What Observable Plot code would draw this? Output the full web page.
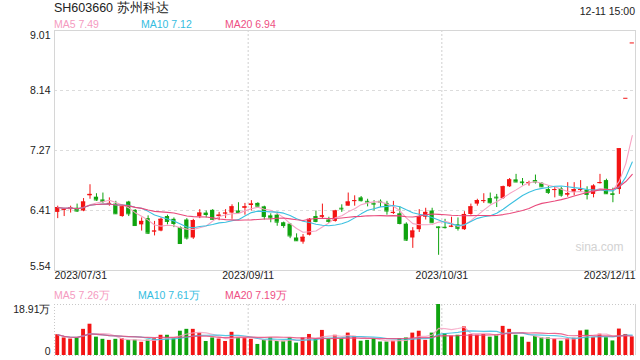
<!DOCTYPE html>
<html>
<head>
<meta charset="utf-8">
<script src="https://cdn.jsdelivr.net/npm/d3@7"></script>
<script src="https://cdn.jsdelivr.net/npm/@observablehq/plot@0.6"></script>
<style>
  html, body { margin: 0; padding: 0; background: #fff; }
  #wrap { position: relative; width: 640px; height: 360px; overflow: hidden; font-family: "Liberation Sans", Arial, sans-serif; color: #222; }
  #wrap svg { position: absolute; left: 0; }
  .lbl { position: absolute; white-space: nowrap; font-size: 10.5px; line-height: 12px; }
</style>
</head>
<body>
<div id="wrap"></div>
<script>
// ---------- data ----------
const stockTitle = "SH603660 苏州科达";
const timeStamp = "12-11 15:00";
const opens  = [6.38,6.41,6.42,6.44,6.40,6.62,6.60,6.56,6.50,6.50,6.32,6.53,6.41,6.20,6.29,6.10,6.11,6.32,6.28,6.16,
                6.27,6.01,6.32,6.37,6.41,6.32,6.36,6.37,6.40,6.44,6.48,6.51,6.46,6.33,6.34,6.23,6.21,6.01,5.95,6.05,
                6.32,6.31,6.27,6.25,6.44,6.47,6.54,6.59,6.54,6.51,6.54,6.51,6.37,6.36,6.21,6.01,6.13,6.31,6.40,6.17,
                6.165,6.17,6.20,6.13,6.35,6.50,6.54,6.58,6.60,6.58,6.75,6.85,6.82,6.80,6.84,6.80,6.71,6.70,6.72,6.63,
                6.67,6.70,6.70,6.64,6.80,6.84,6.65,6.71,8.03,8.83];
const highs  = [6.47,6.44,6.47,6.50,6.58,6.78,6.65,6.66,6.59,6.54,6.47,6.54,6.42,6.30,6.33,6.25,6.30,6.34,6.30,6.17,
                6.29,6.28,6.42,6.40,6.42,6.38,6.42,6.49,6.52,6.51,6.55,6.52,6.47,6.36,6.38,6.24,6.22,6.07,6.06,6.29,
                6.40,6.50,6.31,6.41,6.49,6.66,6.62,6.61,6.57,6.55,6.56,6.54,6.54,6.46,6.23,6.16,6.42,6.44,6.44,6.17,
                6.28,6.31,6.30,6.39,6.50,6.57,6.65,6.66,6.64,6.76,6.87,6.93,6.87,6.83,6.92,6.81,6.76,6.75,6.74,6.81,
                6.81,6.84,6.75,6.78,6.93,6.86,6.73,7.30,8.03,8.83];
const lows   = [6.29,6.32,6.37,6.38,6.39,6.57,6.54,6.51,6.47,6.35,6.31,6.32,6.18,6.11,6.06,6.04,6.10,6.20,6.16,5.92,
                5.98,5.99,6.29,6.30,6.27,6.26,6.29,6.28,6.35,6.34,6.40,6.46,6.27,6.23,6.18,6.15,6.00,5.96,5.92,6.04,
                6.23,6.28,6.22,6.24,6.38,6.47,6.47,6.53,6.46,6.40,6.45,6.34,6.35,6.20,5.96,5.86,6.09,6.27,6.22,5.76,
                6.14,6.16,6.11,6.12,6.34,6.47,6.51,6.50,6.45,6.57,6.74,6.81,6.76,6.76,6.79,6.74,6.64,6.59,6.60,6.60,
                6.62,6.67,6.56,6.59,6.79,6.64,6.52,6.64,8.03,8.83];
const closes = [6.45,6.43,6.45,6.40,6.53,6.64,6.56,6.54,6.51,6.36,6.46,6.36,6.19,6.25,6.08,6.11,6.28,6.25,6.22,5.93,
                6.01,6.26,6.37,6.35,6.28,6.34,6.37,6.46,6.38,6.46,6.50,6.47,6.32,6.30,6.24,6.19,6.04,5.97,6.02,6.28,
                6.25,6.33,6.25,6.40,6.43,6.53,6.55,6.55,6.53,6.50,6.53,6.40,6.38,6.22,5.98,6.11,6.32,6.38,6.23,6.16,
                6.16,6.18,6.15,6.35,6.46,6.55,6.55,6.52,6.59,6.75,6.85,6.82,6.81,6.81,6.82,6.75,6.67,6.71,6.63,6.65,
                6.71,6.71,6.64,6.76,6.81,6.65,6.64,7.30,8.03,8.83];
// volume in 万 (10k shares)
const volumes = [7.7,6.5,6.1,6.5,9.7,11.6,6.8,6.0,5.6,6.0,6.2,5.6,5.7,4.9,5.7,6.2,7.5,7.5,6.2,9.0,
                 9.7,9.7,8.3,5.2,6.5,6.1,5.2,8.6,6.5,6.5,6.0,4.1,5.6,6.5,5.2,5.3,6.5,4.6,6.5,7.8,
                 6.2,9.3,6.2,7.5,6.2,8.3,7.1,5.3,5.6,6.2,5.0,5.0,5.3,6.2,6.5,8.3,9.0,5.6,8.3,18.91,
                 8.1,7.2,7.5,10.6,7.7,7.5,7.8,6.8,7.5,10.8,9.7,7.5,6.8,4.9,7.1,6.5,6.5,6.2,5.3,6.2,
                 6.4,9.1,9.4,6.6,7.9,6.6,5.4,9.8,7.8,6.9];
const priceTickValues = [9.01, 8.1425, 7.275, 6.4075, 5.54];
const priceTickLabels = ["9.01", "8.14", "7.27", "6.41", "5.54"];
const dateTickIndex = [0, 30, 60, 90];
const dateTickLabels = ["2023/07/31", "2023/09/11", "2023/10/31", "2023/12/11"];
const volMax = 18.91;
const volTickLabels = ["18.91万", "0"];
const maNames = ["MA5", "MA10", "MA20"];
const maWindows = [5, 10, 20];
const priceMaValues = ["7.49", "7.12", "6.94"];
const volMaValues = ["7.26万", "7.61万", "7.19万"];

// ---------- styling ----------
const RED = "#f31414", GREEN = "#0fa30f";
const maLineColors = ["#f6a3c3", "#3cc0e0", "#e94a7c"];
const maTextColors = ["#f59bbf", "#35bde0", "#ee4f83"];
const N = closes.length;
const candles = d3.range(N).map(i => ({
  i, o: opens[i], h: highs[i], l: lows[i], c: closes[i], v: volumes[i],
  col: closes[i] >= opens[i] ? RED : GREEN
}));
const xc = d => d.i + 0.5;
const wrap = document.getElementById("wrap");

// ---------- price panel ----------
const priceTicks = priceTickValues.map((v, k) => ({v, label: priceTickLabels[k]}));
const dateTicks = dateTickIndex.map((i, k) => ({i, label: dateTickLabels[k]}));
const innerDates = dateTicks.slice(1, -1);
const tickFont = {fontSize: 10.5, fill: "#222", fontFamily: "Liberation Sans, Arial, sans-serif"};

const price = Plot.plot({
  width: 640, height: 285,
  marginLeft: 54, marginRight: 5, marginTop: 30, marginBottom: 15,
  x: {domain: [0, N], axis: null},
  y: {domain: [5.54, 9.01], axis: null},
  color: {type: "identity"},
  marks: [
    Plot.ruleY(priceTicks.slice(1, -1), {y: "v", stroke: "#dcdcdc", strokeDasharray: "3,3"}),
    Plot.ruleX(innerDates, {x: "i", stroke: "#cfcfcf", strokeDasharray: "2,2"}),
    Plot.frame({stroke: "#d6d6d6"}),
    Plot.text(["sina.com"], {frameAnchor: "bottom-right", dx: -12, dy: -20, fill: "#d2d2d2", fontSize: 12, fontFamily: "Liberation Sans, Arial, sans-serif"}),
    Plot.ruleX(candles, {x: xc, y1: "l", y2: "h", stroke: "col", strokeWidth: 1}),
    Plot.rect(candles, {x1: d => d.i + 0.17, x2: d => d.i + 0.83, y1: "o", y2: "c", fill: "col"}),
    Plot.ruleY(candles, {x1: d => d.i + 0.17, x2: d => d.i + 0.83, y: "c", stroke: "col"}),
    ...maWindows.map((k, j) => Plot.lineY(candles, Plot.windowY({k, anchor: "end", reduce: "mean"},
        {x: xc, y: "c", stroke: maLineColors[j], strokeWidth: 1.1}))),
    Plot.text(priceTicks.slice(1, -1), {y: "v", text: "label", frameAnchor: "left", textAnchor: "end", dx: -4, ...tickFont}),
    Plot.text(priceTicks.slice(0, 1), {y: "v", text: "label", frameAnchor: "left", textAnchor: "end", dx: -4, lineAnchor: "top", dy: 1, ...tickFont}),
    Plot.text(priceTicks.slice(-1), {y: "v", text: "label", frameAnchor: "left", textAnchor: "end", dx: -4, lineAnchor: "bottom", dy: -1, ...tickFont}),
    Plot.text(dateTicks.slice(0, 1), {x: "i", text: "label", frameAnchor: "bottom", textAnchor: "start", dy: 8, ...tickFont}),
    Plot.text(innerDates, {x: "i", text: "label", frameAnchor: "bottom", textAnchor: "middle", dy: 8, ...tickFont}),
    Plot.text(dateTicks.slice(-1), {x: "i", text: "label", frameAnchor: "bottom", textAnchor: "end", dy: 8, ...tickFont})
  ]
});
price.style.top = "0px";
wrap.appendChild(price);

// ---------- volume panel ----------
const vol = Plot.plot({
  width: 640, height: 75,
  marginLeft: 54, marginRight: 5, marginTop: 19, marginBottom: 5,
  x: {domain: [0, N], axis: null},
  y: {domain: [0, volMax], axis: null},
  color: {type: "identity"},
  marks: [
    Plot.ruleY([0, volMax], {stroke: "#c8c8c8", strokeDasharray: "1,2"}),
    Plot.ruleX([0], {stroke: "#c8c8c8", strokeDasharray: "1,2"}),
    Plot.ruleX(innerDates, {x: "i", stroke: "#cfcfcf", strokeDasharray: "2,2"}),
    Plot.ruleX([N], {stroke: "#d6d6d6"}),
    Plot.rect(candles, {x1: d => d.i + 0.2, x2: d => d.i + 0.8, y1: 0, y2: "v", fill: "col"}),
    ...maWindows.map((k, j) => Plot.lineY(candles, Plot.windowY({k, anchor: "end", reduce: "mean"},
        {x: xc, y: "v", stroke: maLineColors[j], strokeWidth: 1.2, strokeOpacity: 0.85}))),
    Plot.text([{v: volMax, label: volTickLabels[0]}], {y: "v", text: "label", frameAnchor: "left", textAnchor: "end", dx: -4, lineAnchor: "top", dy: 1, ...tickFont}),
    Plot.text([{v: 0, label: volTickLabels[1]}], {y: "v", text: "label", frameAnchor: "left", textAnchor: "end", dx: -4, lineAnchor: "bottom", dy: -1, ...tickFont})
  ]
});
vol.style.top = "285px";
wrap.appendChild(vol);

// ---------- header & legends ----------
function addLabel(text, css) {
  const d = document.createElement("div");
  d.className = "lbl";
  d.textContent = text;
  Object.assign(d.style, css);
  wrap.appendChild(d);
}
addLabel(stockTitle, {left: "54px", top: "1px", fontSize: "12.5px", lineHeight: "15px", color: "#222"});
addLabel(timeStamp, {right: "5px", top: "5px", color: "#222"});
const maLeft = [54, 141, 225];
const volMaLeft = [54, 138, 225];
maNames.forEach((n, j) => {
  addLabel(n + " " + priceMaValues[j], {left: maLeft[j] + "px", top: "18px", color: maTextColors[j]});
  addLabel(n + " " + volMaValues[j], {left: volMaLeft[j] + "px", top: "289px", color: maTextColors[j]});
});
</script>
</body>
</html>
